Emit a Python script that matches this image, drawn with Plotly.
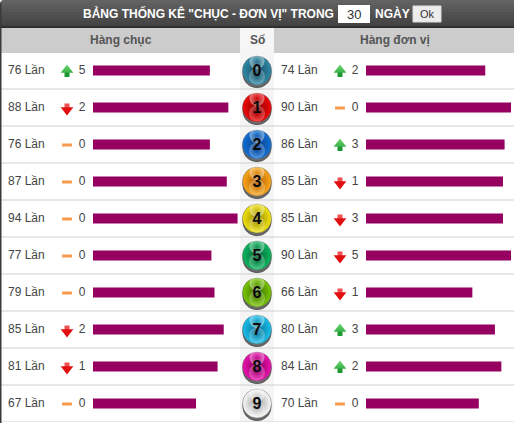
import plotly.graph_objects as go

W, H = 514, 423
FONT = "Liberation Sans, Arial, sans-serif"

digits = ["0", "1", "2", "3", "4", "5", "6", "7", "8", "9"]
tens_counts = [76, 88, 76, 87, 94, 77, 79, 85, 81, 67]
tens_change = [5, -2, 0, 0, 0, 0, 0, -2, -1, 0]
units_counts = [74, 90, 86, 85, 85, 90, 66, 80, 84, 70]
units_change = [2, 0, 3, -1, -3, -5, -1, 3, 2, 0]
ball_mid = ["#2f8aa8", "#f00808", "#1070d8", "#fba81a", "#f2e410", "#0cb860", "#78c800", "#18c0ec", "#ee10ae", "#fafafa"]
ball_edge = ["#17495e", "#8a0000", "#0a3c80", "#b05a00", "#948400", "#046034", "#3c6a00", "#0a6c90", "#80005c", "#9a9a9a"]
title_text = 'BẢNG THỐNG KÊ "CHỤC - ĐƠN VỊ" TRONG'
days = "30"
BAR = "#960060"
TXT = "#444444"

rows = list(range(len(digits)))
R = 37.0  # px per row


def py(p):
    return 1 - p / H


def px(p):
    return p / W


def rect(x0, y0, x1, y1, color):
    return dict(type="rect", xref="paper", yref="paper", x0=px(x0), x1=px(x1),
                y0=py(y1), y1=py(y0), fillcolor=color, line_width=0, layer="below")


def ann(x, y, text, size, color, bold=False, anchor="center"):
    return dict(xref="paper", yref="paper", x=px(x), y=py(y), text=f"<b>{text}</b>" if bold else text,
                showarrow=False, xanchor=anchor, yanchor="middle",
                font=dict(family=FONT, size=size, color=color))


fig = go.Figure()

# Bars
fig.add_trace(go.Bar(x=tens_counts, y=rows, orientation="h", width=10 / R, marker=dict(color=BAR, line_width=0),
                     xaxis="x", yaxis="y", hoverinfo="skip"))
fig.add_trace(go.Bar(x=units_counts, y=rows, orientation="h", width=10 / R, marker=dict(color=BAR, line_width=0),
                     xaxis="x2", yaxis="y", hoverinfo="skip"))


def overlay(**kw):
    kw.setdefault("cliponaxis", False)
    kw.setdefault("hoverinfo", "skip")
    fig.add_trace(go.Scatter(xaxis="x3", yaxis="y", **kw))


# Count labels
overlay(x=[8] * 10, y=rows, mode="text", text=[f"{v} Lần" for v in tens_counts], textposition="middle right",
        textfont=dict(family=FONT, size=12, color=TXT))
overlay(x=[281] * 10, y=rows, mode="text", text=[f"{v} Lần" for v in units_counts], textposition="middle right",
        textfont=dict(family=FONT, size=12, color=TXT))


# Trend markers and change numbers
def trend(changes, xa, xn):
    ups = [i for i, c in enumerate(changes) if c > 0]
    downs = [i for i, c in enumerate(changes) if c < 0]
    flats = [i for i, c in enumerate(changes) if c == 0]
    # up arrows
    overlay(x=[xa] * len(ups), y=[i + 4.0 / R for i in ups], mode="markers",
            marker=dict(symbol="square", size=5, color="#1a9a30", line_width=0))
    overlay(x=[xa] * len(ups), y=[i - 0.5 / R for i in ups], mode="markers",
            marker=dict(symbol="triangle-up", size=11, color="#70d870", line_width=0,
                        gradient=dict(type="vertical", color="#38b048")))
    # down arrows
    overlay(x=[xa] * len(downs), y=[i - 1.5 / R for i in downs], mode="markers",
            marker=dict(symbol="square", size=5, color="#f05050", line_width=0))
    overlay(x=[xa] * len(downs), y=[i + 2.5 / R for i in downs], mode="markers",
            marker=dict(symbol="triangle-down", size=11, color="#e01010", line_width=0))
    # flat dashes
    overlay(x=[xa] * len(flats), y=[i + 0.5 / R for i in flats], mode="markers",
            marker=dict(symbol="line-ew", size=7, line=dict(color="#f59a4a", width=3)))
    overlay(x=[xn] * 10, y=rows, mode="text", text=[str(abs(c)) for c in changes], textposition="middle center",
            textfont=dict(family=FONT, size=12, color=TXT))


trend(tens_change, 67, 82)
trend(units_change, 340, 355)

BX = 257
# Ball shadow
overlay(x=[BX] * 10, y=[i + 3.0 / R for i in rows], mode="markers",
        marker=dict(symbol="circle", size=29, color="rgba(30,30,30,0.75)", line_width=0,
                    gradient=dict(type="radial", color="rgba(60,60,60,0)")))
# Ball body
overlay(x=[BX] * 10, y=rows, mode="markers",
        marker=dict(symbol="circle", size=29, color=ball_mid, line=dict(color="rgba(90,90,90,0.6)", width=0.8),
                    gradient=dict(type="radial", color=ball_edge)))
# Lower glow
overlay(x=[BX] * 10, y=[i + 6.0 / R for i in rows], mode="markers",
        marker=dict(symbol="circle", size=16, color="rgba(255,255,255,0.28)", line_width=0,
                    gradient=dict(type="radial", color="rgba(255,255,255,0)")))
# Top highlight
overlay(x=[BX] * 10, y=[i - 9.0 / R for i in rows], mode="markers",
        marker=dict(symbol="circle", size=15, color="rgba(255,255,255,0.45)", line_width=0,
                    gradient=dict(type="radial", color="rgba(255,255,255,0.02)")))
# Digits
overlay(x=[BX] * 10, y=[i + 1.5 / R for i in rows], mode="text", text=digits, textposition="middle center",
        textfont=dict(family=FONT, size=16, color="#0a0a0a", weight="bold"))

shapes = [
    rect(0, 27, W, 53, "#cccccc"),
    rect(240, 28, 274, 52, "#f6f6f6"),
    rect(240, 52, 274, 422, "#f5f5f5"),
]
# Header gradient bands
bands = ["#626262", "#5e5e5e", "#5a5a5a", "#565656", "#525252", "#4e4e4e", "#4a4a4a", "#464646", "#424242"]
for k, c in enumerate(bands):
    shapes.append(rect(0, k * 3, W, (k + 1) * 3, c))
shapes.append(rect(0, 26, W, 28, "#2f2f2f"))
# Rounded header corners
shapes.append(dict(type="path", xref="paper", yref="paper", layer="below", line_width=0, fillcolor="#ffffff",
                   path=f"M 0 1 L {px(4)} 1 Q 0 1 0 {py(4)} Z"))
# Row separators
for i in rows:
    shapes.append(dict(type="line", xref="paper", yref="y", x0=0, x1=1, y0=i + 0.5, y1=i + 0.5,
                       line=dict(color="#cfcfcf", width=1), layer="below"))
# Left border
shapes.append(rect(0, 3, 1.5, H, "#3a3a3a"))
# Input box and button
shapes.append(rect(338, 5, 370, 23, "#ffffff"))
shapes.append(dict(type="rect", xref="paper", yref="paper", x0=px(413), x1=px(441), y0=py(22), y1=py(6),
                   fillcolor="#ececec", line=dict(color="#dddddd", width=1), layer="below"))

annotations = [
    ann(81, 13, title_text, 12, "#ffffff", True, "left"),
    ann(354, 14.5, days, 13, "#333333"),
    ann(373, 13, "NGÀY", 12, "#ffffff", True, "left"),
    ann(427, 14.5, "Ok", 11, "#333333"),
    ann(121, 40, "Hàng chục", 12, "#555555", True),
    ann(257, 40, "Số", 12, "#555555", True),
    ann(394.5, 40, "Hàng đơn vị", 12, "#555555", True),
]

hidden = dict(visible=False, fixedrange=True)
fig.update_layout(
    width=W, height=H, margin=dict(l=0, r=0, t=0, b=0), autosize=False,
    paper_bgcolor="#ffffff", plot_bgcolor="rgba(0,0,0,0)", showlegend=False, barmode="overlay",
    xaxis=dict(domain=[px(93), px(238.8)], range=[0, 94.8], anchor="y", **hidden),
    xaxis2=dict(domain=[px(366), px(512)], range=[0, 90.6], anchor="y", **hidden),
    xaxis3=dict(domain=[0, 1], range=[0, W], anchor="y", **hidden),
    yaxis=dict(domain=[py(422), py(52)], range=[9.5, -0.5], **hidden),
    shapes=shapes, annotations=annotations,
)

fig.write_html("out.html", config=dict(displayModeBar=False, staticPlot=True),
               post_script="document.body.style.margin='0';document.body.style.overflow='hidden';")
